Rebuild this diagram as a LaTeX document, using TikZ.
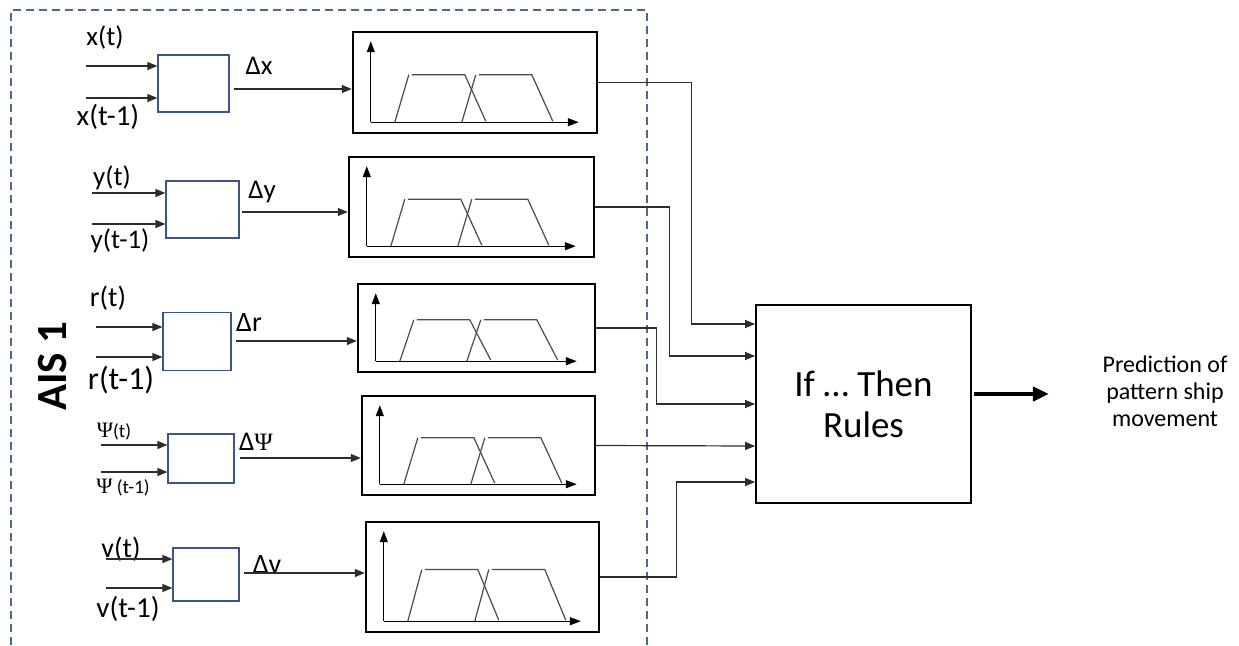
\documentclass[tikz,border=0pt]{standalone}
\usepackage{fontspec}
\setmainfont{Carlito}
\newfontfamily\psifont{Liberation Serif}
\usetikzlibrary{arrows.meta,calc}
\definecolor{boxblue}{RGB}{60,85,135}
\definecolor{dashblue}{RGB}{75,105,145}
\definecolor{linegray}{RGB}{45,45,45}
\definecolor{mfgray}{RGB}{75,75,75}
\newcommand\fs[1]{\fontsize{#1}{#1}\selectfont}
\newcommand\PsiSym{{\psifont\char"03A8}}
% membership-function panel: name, centre x, centre y, width, height
\newcommand\fuzzypanel[5]{%
  \node[fuzzy, minimum width=#4pt, minimum height=#5pt] (#1) at (#2,#3) {};
  \begin{scope}[shift={(#1.south west)}]
    \pgfmathsetmacro\mfh{-12-0.47*#5}
    \draw[axisarr] (19,-12) -- (19,{-(#5-8)});
    \draw[axisarr] (19,-12) -- ({#4-17},-12);
    \draw[mf] (43,-12) -- (57,\mfh);
    \draw[mf] (60,\mfh) -- (113,\mfh) -- (134,-13);
    \draw[mf] (110,-12) -- (124,\mfh);
    \draw[mf] (127,\mfh) -- (180,\mfh) -- (201,-13);
  \end{scope}}
\begin{document}
\begin{tikzpicture}[x=1pt,y=-1pt,
  diffbox/.style={draw=boxblue, line width=1.2pt, minimum width=#1, inner sep=0pt},
  fuzzy/.style={draw=black, line width=2.4pt, inner sep=0pt},
  rulebox/.style={draw=black, line width=1.8pt, inner sep=0pt},
  arr/.style={draw=linegray, line width=1.2pt, -{Triangle[length=10pt,width=8pt]}},
  axisarr/.style={draw=black, line width=1.2pt, -{Triangle[length=11pt,width=8pt]}},
  mf/.style={draw=mfgray, line width=1.2pt},
  lbl/.style={inner sep=0pt, font=\fs{27}},
  thick arrow/.style={draw=black, line width=4pt, -{Triangle[length=16pt,width=14pt]}}]
\useasboundingbox (0,0) rectangle (1239,645);
\fill[white] (0,0) rectangle (1239,645);

% dashed frame of the AIS 1 block
\draw[dashblue, line width=1.4pt, dash pattern=on 8pt off 5pt]
  (11,645) -- (11,10) -- (647,10) -- (647,645);
\node[rotate=90, inner sep=0pt, font=\fs{43}\bfseries] (ais) at (53,366) {AIS 1};

% difference blocks
\node[diffbox=71pt, minimum height=57pt] (b1) at (193.5,83.5) {};
\node[diffbox=73pt, minimum height=57pt] (b2) at (202.5,209.5) {};
\node[diffbox=68pt, minimum height=58pt] (b3) at (197,341.5) {};
\node[diffbox=66pt, minimum height=49pt] (b4) at (201,458.5) {};
\node[diffbox=66pt, minimum height=53pt] (b5) at (206,574.5) {};

% fuzzification panels
\fuzzypanel{f1}{475}{82.5}{244}{101}
\fuzzypanel{f2}{471.5}{207}{245}{100}
\fuzzypanel{f3}{476.5}{328}{237}{88}
\fuzzypanel{f4}{478.5}{445.5}{233}{99}
\fuzzypanel{f5}{482.5}{577}{233}{110}

% rule base and output
\node[rulebox, minimum width=215pt, minimum height=198pt, align=center,
      font=\fs{37}] (rules) at (863.5,404) {If … Then\\[4pt]Rules};
\node[align=center, inner sep=0pt, font=\fs{24}\linespread{1.12}\selectfont]
  (pred) at (1165,391) {Prediction of\\pattern ship\\movement};
\coordinate (outend) at ($(rules.east)+(77,-10)$);
\draw[thick arrow] ($(rules.east)+(2,-10)$) -- (outend);

% input labels
\node[lbl] (x0) at (105,37) {x(t)};
\node[lbl, font=\fs{29}] (x1) at (108,117) {x(t-1)};
\node[lbl] (dx) at (259,66) {Δx};
\node[lbl] (y0) at (112,178) {y(t)};
\node[lbl] (y1) at (120,241) {y(t-1)};
\node[lbl] (dy) at (262,192) {Δy};
\node[lbl, font=\fs{28}] (r0) at (108,298) {r(t)};
\node[lbl, font=\fs{32}] (r1) at (121,380) {r(t-1)};
\node[lbl, font=\fs{28}] (dr) at (249,323) {Δr};
\node[lbl, font=\fs{19}] (p0) at (114,432) {{\fs{22}\PsiSym}(t)};
\node[lbl, font=\fs{19}] (p1) at (123,488) {{\fs{22}\PsiSym} (t-1)};
\node[lbl] (dp) at (256,442) {Δ{\fs{25}\PsiSym}};
\node[lbl, font=\fs{28}] (v0) at (121,549) {v(t)};
\node[lbl, font=\fs{29}] (v1) at (128,609) {v(t-1)};
\node[lbl, font=\fs{28}] (dv) at (267,565) {Δv};

% inputs into the difference blocks
\draw[arr] ($(b1.west)+(-71,-17.5)$) -- ($(b1.west)+(0,-17.5)$);
\draw[arr] ($(b1.west)+(-71,14.5)$) -- ($(b1.west)+(0,14.5)$);
\draw[arr] ($(b2.west)+(-73,-16.5)$) -- ($(b2.west)+(0,-16.5)$);
\draw[arr] ($(b2.west)+(-73,14.5)$) -- ($(b2.west)+(0,14.5)$);
\draw[arr] ($(b3.west)+(-66,-14.5)$) -- ($(b3.west)+(0,-14.5)$);
\draw[arr] ($(b3.west)+(-66,15.5)$) -- ($(b3.west)+(0,15.5)$);
\draw[arr] ($(b4.west)+(-66,-13.5)$) -- ($(b4.west)+(0,-13.5)$);
\draw[arr] ($(b4.west)+(-66,13.5)$) -- ($(b4.west)+(0,13.5)$);
\draw[arr] ($(b5.west)+(-66,-15.5)$) -- ($(b5.west)+(0,-15.5)$);
\draw[arr] ($(b5.west)+(-66,13.5)$) -- ($(b5.west)+(0,13.5)$);

% differences into the panels
\draw[arr] ($(b1.east)+(4,5.5)$) -- ($(b1.east -| f1.west)+(0,5.5)$);
\draw[arr] ($(b2.east)+(2,2.5)$) -- ($(b2.east -| f2.west)+(0,2.5)$);
\draw[arr] ($(b3.east)+(4,-0.5)$) -- ($(b3.east -| f3.west)+(0,-0.5)$);
\draw[arr] ($(b4.east)+(5,-0.5)$) -- ($(b4.east -| f4.west)+(0,-0.5)$);
\draw[arr] ($(b5.east)+(4,-1.5)$) -- ($(b5.east -| f5.west)+(0,-1.5)$);

% panels into the rule base
\coordinate (in1) at ($(rules.west)+(0,-80)$);
\coordinate (in2) at ($(rules.west)+(0,-48)$);
\coordinate (in3) at ($(rules.west)+(0,0)$);
\coordinate (in4) at ($(rules.west)+(0,42)$);
\coordinate (in5) at ($(rules.west)+(0,78)$);
\draw[arr] (f1.east) -| ($(in1)+(-64,0)$) -- (in1);
\draw[arr] (f2.east) -| ($(in2)+(-86,0)$) -- (in2);
\draw[arr] (f3.east) -| ($(in3)+(-99,0)$) -- (in3);
\draw[arr] (f4.east) -- (in4);
\draw[arr] (f5.east) -| ($(in5)+(-79,0)$) -- (in5);
\end{tikzpicture}
\end{document}
